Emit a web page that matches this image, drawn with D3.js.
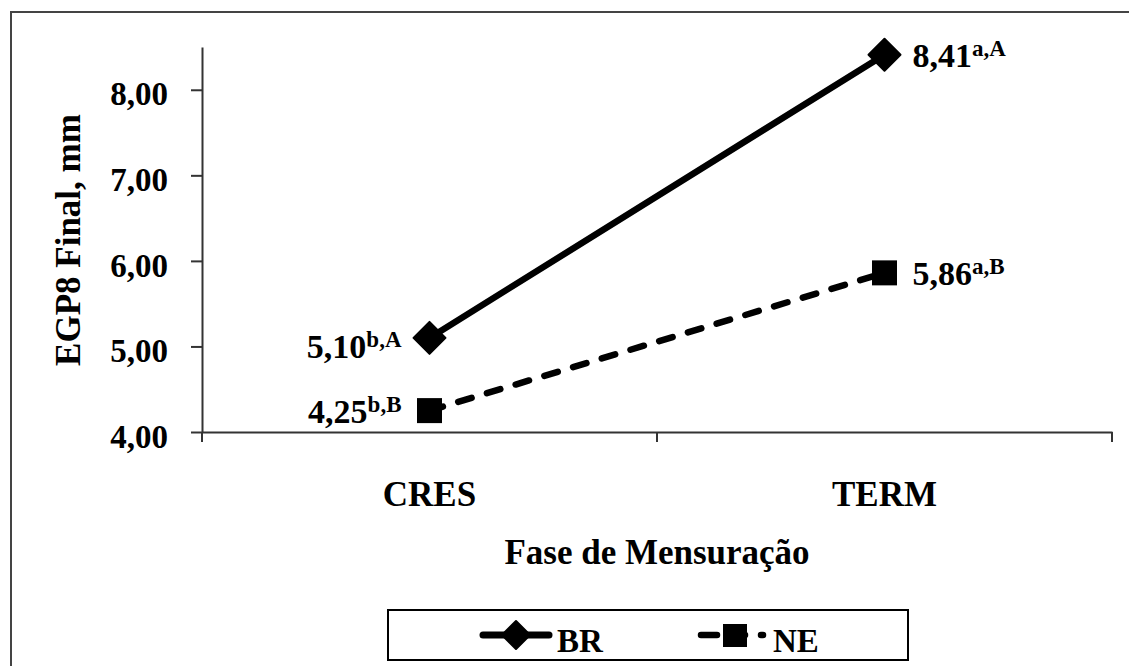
<!DOCTYPE html>
<html>
<head>
<meta charset="UTF-8">
<title>EGP8 Final por fase de mensuração</title>
<script src="https://d3js.org/d3.v7.min.js"></script>
<style>
    body {
        margin: 0;
        background-color: #fff;
    }
    text {
        font-family: "Liberation Serif", "Times New Roman", serif;
        font-weight: bold;
        fill: #000;
    }
</style>
</head>
<body>
<svg id="main" width="1129" height="666"></svg>
<script>
    // values
    var categories = ["CRES", "TERM"];
    var seriesNames = ["BR", "NE"];
    var brValues = [5.10, 8.41];
    var neValues = [4.25, 5.86];
    var brLetters = ["b,A", "a,A"];
    var neLetters = ["b,B", "a,B"];
    var yTicks = [4, 5, 6, 7, 8];
    var yTitle = "EGP8 Final, mm";
    var xTitle = "Fase de Mensuração";

    var svg = d3.select("#main");
    var fmt = function(v) { return d3.format(".2f")(v).replace(".", ","); };

    // outer frame (only left and top edges fall inside the picture)
    svg.append("rect")
        .attr("x", 11).attr("y", 12)
        .attr("width", 1200).attr("height", 700)
        .attr("fill", "none")
        .attr("stroke", "#444")
        .attr("stroke-width", 2);

    var x = d3.scaleBand()
        .domain(categories)
        .range([202, 1112]);
    var y = d3.scaleLinear()
        .domain([4, 8.5])
        .range([432, 47]);

    // y axis
    var yAxis = svg.append("g")
        .attr("transform", "translate(202,0)")
        .call(d3.axisLeft(y).tickValues(yTicks).tickSize(11).tickSizeOuter(0).tickFormat(fmt));
    yAxis.select(".domain").attr("stroke", "#333").attr("stroke-width", 2);
    yAxis.selectAll(".tick line").attr("stroke", "#333").attr("stroke-width", 2);
    yAxis.selectAll(".tick text")
        .attr("x", -34)
        .attr("dy", "0.46em")
        .style("font-size", "33px")
        .style("font-family", "Liberation Serif, serif");

    // x axis
    var xAxis = svg.append("g")
        .attr("transform", "translate(0,432)")
        .call(d3.axisBottom(x).tickSize(0).tickSizeOuter(0));
    xAxis.select(".domain").attr("stroke", "#333").attr("stroke-width", 2);
    xAxis.selectAll(".tick text")
        .attr("y", 74)
        .attr("dy", 0)
        .style("font-size", "35px")
        .style("font-family", "Liberation Serif, serif");
    // boundary ticks between categories
    var edges = [x.range()[0]].concat(categories.map(function(c) { return x(c) + x.bandwidth(); }));
    xAxis.selectAll(".edge")
        .data(edges)
        .enter()
        .append("line")
        .attr("x1", d => d).attr("x2", d => d)
        .attr("y1", 0).attr("y2", 10)
        .attr("stroke", "#333")
        .attr("stroke-width", 2);

    // axis titles
    svg.append("text")
        .attr("transform", "translate(80,240) rotate(-90)")
        .attr("text-anchor", "middle")
        .style("font-size", "35px")
        .text(yTitle);
    svg.append("text")
        .attr("x", 657).attr("y", 564)
        .attr("text-anchor", "middle")
        .style("font-size", "35px")
        .text(xTitle);

    var cx = function(c) { return x(c) + x.bandwidth() / 2; };
    var diamond = function(r) {
        return "M0," + (-r) + "L" + r + ",0L0," + r + "L" + (-r) + ",0Z";
    };

    var series = [
        { name: seriesNames[0], values: brValues, letters: brLetters, dash: null, shape: "diamond" },
        { name: seriesNames[1], values: neValues, letters: neLetters, dash: "14,16", shape: "square" }
    ];

    var line = d3.line()
        .x((d, i) => cx(categories[i]))
        .y(d => y(d));

    series.forEach(function(s) {
        var g = svg.append("g");
        g.append("path")
            .datum(s.values)
            .attr("d", line)
            .attr("fill", "none")
            .attr("stroke", "#000")
            .attr("stroke-width", 6.5)
            .attr("stroke-linecap", "round")
            .attr("stroke-dasharray", s.dash);

        var pts = g.selectAll(".pt")
            .data(s.values)
            .enter()
            .append("g")
            .attr("transform", (d, i) => "translate(" + cx(categories[i]) + "," + y(d) + ")");
        if (s.shape == "diamond") {
            pts.append("path")
                .attr("d", diamond(16))
                .attr("fill", "#000")
                .attr("stroke", "#000")
                .attr("stroke-width", 2)
                .attr("stroke-linejoin", "round");
        } else {
            pts.append("rect")
                .attr("x", -12.5).attr("y", -12.5)
                .attr("width", 25).attr("height", 25)
                .attr("fill", "#000");
        }

        // value labels with letters in superscript
        var labels = pts.append("text")
            .attr("text-anchor", (d, i) => i == 0 ? "end" : "start")
            .attr("x", (d, i) => i == 0 ? -28 : 28)
            .attr("y", (d, i) => (s.name == "BR" && i == 0) ? 20 : 12)
            .style("font-size", "34px");
        labels.append("tspan").text(d => fmt(d));
        labels.append("tspan")
            .attr("dy", -11)
            .style("font-size", "23px")
            .text((d, i) => s.letters[i]);
    });

    // legend
    var legend = svg.append("g");
    legend.append("rect")
        .attr("x", 388).attr("y", 610)
        .attr("width", 520).attr("height", 50)
        .attr("fill", "#fff")
        .attr("stroke", "#000")
        .attr("stroke-width", 2);

    // BR entry
    legend.append("line")
        .attr("x1", 483).attr("x2", 549)
        .attr("y1", 635).attr("y2", 635)
        .attr("stroke", "#000").attr("stroke-width", 7)
        .attr("stroke-linecap", "round");
    legend.append("path")
        .attr("transform", "translate(516,635)")
        .attr("d", diamond(14))
        .attr("fill", "#000").attr("stroke", "#000")
        .attr("stroke-width", 2).attr("stroke-linejoin", "round");
    legend.append("text")
        .attr("x", 557).attr("y", 652)
        .style("font-size", "33px")
        .text(seriesNames[0]);

    // NE entry
    legend.append("line")
        .attr("x1", 701).attr("x2", 766)
        .attr("y1", 635).attr("y2", 635)
        .attr("stroke", "#000").attr("stroke-width", 6.5)
        .attr("stroke-linecap", "round")
        .attr("stroke-dasharray", "16,14,14,16,2,20");
    legend.append("rect")
        .attr("x", 723).attr("y", 624)
        .attr("width", 24).attr("height", 23)
        .attr("fill", "#000");
    legend.append("text")
        .attr("x", 773).attr("y", 652)
        .style("font-size", "33px")
        .text(seriesNames[1]);
</script>
</body>
</html>
